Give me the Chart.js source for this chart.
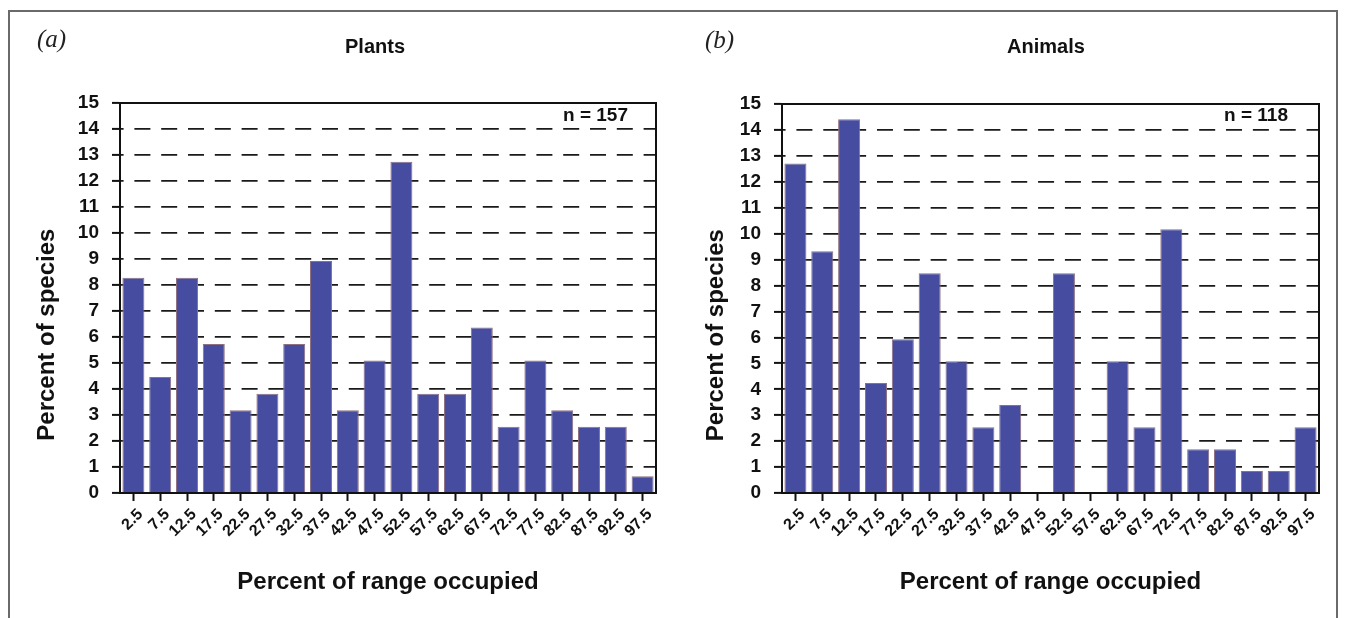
<!DOCTYPE html>
<html lang="en">
<head>
  <meta charset="UTF-8">
  <title>Plants / Animals - percent of range occupied</title>
  <script src="https://cdn.jsdelivr.net/npm/chart.js"></script>
  <style>
    body { margin: 0; background: #fff; }
    #fig { position: relative; width: 1351px; height: 618px; overflow: hidden; font-family: "Liberation Sans", Arial, sans-serif; }
    .frame { position: absolute; left: 8px; top: 10px; width: 1326px; height: 640px; border: 2px solid #6a6a6a; }
    .panel { position: absolute; top: 0; }
    .tag { position: absolute; font-family: "Liberation Serif", "Times New Roman", serif; font-style: italic; font-size: 25px; line-height: 26px; color: #222; }
    .ttl { position: absolute; width: 240px; text-align: center; font-weight: bold; font-size: 20px; line-height: 24px; color: #111; }
    .n { position: absolute; font-weight: bold; font-size: 19px; line-height: 22px; color: #111; white-space: nowrap; }
  </style>
</head>
<body>
<div id="fig">
  <div class="frame"></div>
  <div class="panel" style="left:0"><canvas id="plants" width="675" height="618"></canvas></div>
  <div class="panel" style="left:675px"><canvas id="animals" width="676" height="618"></canvas></div>

  <div class="tag" style="left:37px; top:26px">(a)</div>
  <div class="ttl" style="left:255px; top:34px">Plants</div>
  <div class="n" style="right:723px; top:104px">n = 157</div>

  <div class="tag" style="left:705px; top:27px">(b)</div>
  <div class="ttl" style="left:926px; top:34px">Animals</div>
  <div class="n" style="right:63px; top:104px">n = 118</div>
</div>

<script>
  // range classes (midpoints, % of range occupied)
  const categories = ['2.5', '7.5', '12.5', '17.5', '22.5', '27.5', '32.5', '37.5', '42.5', '47.5',
                      '52.5', '57.5', '62.5', '67.5', '72.5', '77.5', '82.5', '87.5', '92.5', '97.5'];

  // percent of species
  const plantsPct  = [8.28, 4.46, 8.28, 5.73, 3.18, 3.82, 5.73, 8.92, 3.18, 5.10,
                      12.74, 3.82, 3.82, 6.37, 2.55, 5.10, 3.18, 2.55, 2.55, 0.64];
  const animalsPct = [12.71, 9.32, 14.41, 4.24, 5.93, 8.47, 5.08, 2.54, 3.39, 0,
                      8.47, 0, 5.08, 2.54, 10.17, 1.69, 1.69, 0.85, 0.85, 2.54];

  const yMin = 0;
  const yMax = 15;

  const barFill = '#464ca0';
  const barEdge = '#8d7082';
  const ink = '#111';

  // top + right lines of the plot box
  const boxPlugin = {
    id: 'box',
    afterDraw(chart) {
      const a = chart.chartArea;
      const ctx = chart.ctx;
      ctx.save();
      ctx.strokeStyle = ink;
      ctx.lineWidth = 2;
      ctx.beginPath();
      ctx.moveTo(a.left, a.top);
      ctx.lineTo(a.right, a.top);
      ctx.lineTo(a.right, a.bottom);
      ctx.stroke();
      ctx.restore();
    }
  };

  function makeChart(id, values, cfg) {
    const period = (cfg.right - cfg.left) / categories.length;
    const dash = 16;
    return new Chart(document.getElementById(id), {
      type: 'bar',
      data: {
        labels: categories,
        datasets: [{
          data: values,
          backgroundColor: barFill,
          borderColor: barEdge,
          borderWidth: 1,
          barPercentage: 0.82,
          categoryPercentage: 1.0
        }]
      },
      options: {
        responsive: false,
        animation: false,
        layout: { padding: { left: 0, top: cfg.top, right: cfg.width - cfg.right, bottom: 0 } },
        plugins: {
          legend: { display: false },
          tooltip: { enabled: false },
          title: { display: false }
        },
        scales: {
          x: {
            offset: true,
            grid: { display: true, drawOnChartArea: false, offset: false, tickLength: 8, tickWidth: 2, tickColor: ink },
            border: { display: true, color: ink, width: 2 },
            ticks: {
              color: ink,
              font: { family: 'Liberation Sans', weight: 'bold', size: 16 },
              minRotation: 45, maxRotation: 45, padding: 4, labelOffset: 7, autoSkip: false
            },
            title: {
              display: true,
              text: 'Percent of range occupied',
              color: ink,
              font: { family: 'Liberation Sans', weight: 'bold', size: 24 },
              padding: { top: 0, bottom: 21 }
            },
            afterFit(scale) { scale.height = cfg.height - cfg.bottom; }
          },
          y: {
            min: yMin,
            max: yMax,
            grid: {
              color: ctx => (ctx.tick && (ctx.tick.value === yMin || ctx.tick.value === yMax)) ? 'rgba(0,0,0,0)' : '#1a1a1a',
              lineWidth: 1.8,
              tickColor: ink,
              tickWidth: 2,
              tickLength: 8,
              tickBorderDash: []
            },
            // in v4 the grid-line dash lives under border
            border: { display: true, color: ink, width: 2, dash: [dash, period - dash], dashOffset: period / 2 },
            ticks: {
              stepSize: 1,
              color: ink,
              padding: 13,
              font: { family: 'Liberation Sans', weight: 'bold', size: 19 }
            },
            title: {
              display: true,
              // trailing spaces push the label down like in the source figure
              text: 'Percent of species\u00a0\u00a0\u00a0\u00a0\u00a0\u00a0\u00a0\u00a0\u00a0\u00a0\u00a0',
              color: ink,
              font: { family: 'Liberation Sans', weight: 'bold', size: 24 },
              padding: { top: cfg.ytitle - 14.4, bottom: 0 }
            },
            afterFit(scale) { scale.width = cfg.left; }
          }
        }
      },
      plugins: [boxPlugin]
    });
  }

  makeChart('plants', plantsPct, { width: 675, height: 618, left: 120, right: 656, top: 103, bottom: 493, ytitle: 47 });
  makeChart('animals', animalsPct, { width: 676, height: 618, left: 107, right: 644, top: 104, bottom: 493, ytitle: 41 });
</script>
</body>
</html>
